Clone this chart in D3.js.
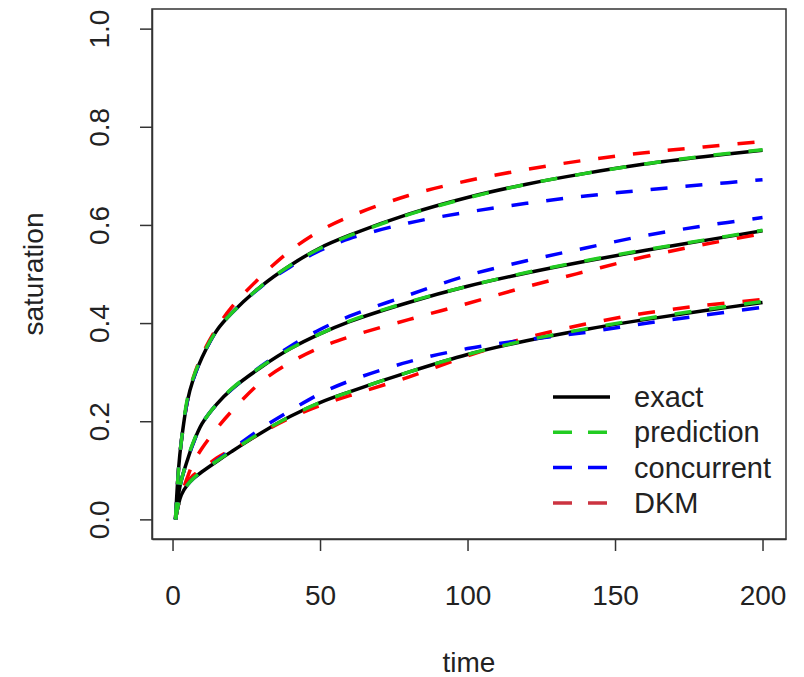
<!DOCTYPE html>
<html>
<head>
<meta charset="utf-8">
<script src="https://cdn.jsdelivr.net/npm/d3@7"></script>
<style>
body { margin: 0; background: #fff; }
text { font-family: "Liberation Sans", Arial, sans-serif; fill: #222; }
</style>
</head>
<body>
<div id="chart"></div>
<script>
// ----------------------------------------------------------
// DATA -----------------------------------------------------
// ----------------------------------------------------------
var time = [1, 2, 3, 5, 7, 10, 15, 20, 30, 40, 50, 60, 80, 100, 120, 140, 160, 180, 200];

// upper group
var exact_hi = [0, 0.10, 0.16, 0.24, 0.285, 0.33, 0.385, 0.42, 0.475, 0.518, 0.553, 0.579, 0.622, 0.656, 0.683, 0.705, 0.724, 0.739, 0.752];
var pred_hi  = [0, 0.10, 0.16, 0.245, 0.288, 0.332, 0.385, 0.42, 0.475, 0.518, 0.552, 0.578, 0.621, 0.655, 0.683, 0.705, 0.724, 0.740, 0.753];
var conc_hi  = [0, 0.10, 0.16, 0.24, 0.285, 0.33, 0.385, 0.42, 0.474, 0.515, 0.548, 0.572, 0.604, 0.626, 0.644, 0.659, 0.671, 0.682, 0.692];
var dkm_hi   = [0, 0.10, 0.16, 0.24, 0.288, 0.335, 0.39, 0.432, 0.495, 0.548, 0.588, 0.617, 0.66, 0.69, 0.713, 0.732, 0.747, 0.759, 0.77];

// middle group
var exact_mid = [0, 0.05, 0.08, 0.12, 0.155, 0.195, 0.235, 0.265, 0.31, 0.348, 0.378, 0.403, 0.442, 0.475, 0.502, 0.526, 0.548, 0.568, 0.588];
var pred_mid  = [0, 0.05, 0.08, 0.122, 0.157, 0.195, 0.235, 0.266, 0.311, 0.348, 0.378, 0.404, 0.443, 0.475, 0.503, 0.527, 0.549, 0.569, 0.589];
var conc_mid  = [0, 0.05, 0.08, 0.12, 0.155, 0.195, 0.235, 0.265, 0.312, 0.353, 0.387, 0.414, 0.457, 0.497, 0.527, 0.553, 0.578, 0.598, 0.615];
var dkm_mid   = [0, 0.03, 0.05, 0.085, 0.115, 0.145, 0.185, 0.22, 0.28, 0.32, 0.35, 0.372, 0.407, 0.44, 0.474, 0.505, 0.535, 0.56, 0.582];

// lower group
var exact_lo = [0, 0.03, 0.05, 0.07, 0.083, 0.097, 0.118, 0.138, 0.176, 0.21, 0.238, 0.26, 0.3, 0.336, 0.364, 0.387, 0.407, 0.425, 0.442];
var pred_lo  = [0, 0.03, 0.05, 0.07, 0.083, 0.098, 0.119, 0.139, 0.177, 0.21, 0.238, 0.26, 0.3, 0.336, 0.365, 0.388, 0.409, 0.427, 0.444];
var conc_lo  = [0, 0.03, 0.05, 0.07, 0.083, 0.097, 0.12, 0.142, 0.185, 0.222, 0.256, 0.282, 0.321, 0.348, 0.366, 0.381, 0.399, 0.416, 0.432];
var dkm_lo   = [0, 0.03, 0.05, 0.075, 0.09, 0.102, 0.125, 0.142, 0.176, 0.207, 0.232, 0.252, 0.29, 0.333, 0.37, 0.398, 0.42, 0.436, 0.448];

var x_ticks = [0, 50, 100, 150, 200];
var y_ticks = [0, 0.2, 0.4, 0.6, 0.8, 1.0];

var legend_labels = ["exact", "prediction", "concurrent", "DKM"];

// ----------------------------------------------------------
// SETUP ----------------------------------------------------
// ----------------------------------------------------------
var W = 804, H = 677;
var box = {left: 152, right: 786, top: 9, bottom: 539};
var font_size = 28;

var col = {exact: "#000000", pred: "#22cc22", conc: "#0000ff", dkm: "#ff0000", dkm_legend: "#cc3340"};
var dash = "17,18";

var svg = d3.select("#chart").append("svg")
  .attr("width", W)
  .attr("height", H);

// R style: 4% padding on both ends of the data range
var x = d3.scaleLinear()
  .domain([1 - 0.04 * 199, 200 + 0.04 * 199])
  .range([box.left, box.right]);
var y = d3.scaleLinear()
  .domain([-0.04, 1.04])
  .range([box.bottom, box.top]);

var line = d3.line()
  .x(function(d) { return x(d[0]); })
  .y(function(d) { return y(d[1]); })
  .curve(d3.curveCatmullRom.alpha(0.5));

function pairs(vals) {
  return time.map(function(t, i) { return [t, vals[i]]; });
}

// ----------------------------------------------------------
// CURVES ---------------------------------------------------
// ----------------------------------------------------------
var series = [
  {vals: exact_hi, color: col.exact, dashed: false},
  {vals: exact_mid, color: col.exact, dashed: false},
  {vals: exact_lo, color: col.exact, dashed: false},
  {vals: dkm_hi, color: col.dkm, dashed: true},
  {vals: dkm_mid, color: col.dkm, dashed: true},
  {vals: dkm_lo, color: col.dkm, dashed: true},
  {vals: conc_hi, color: col.conc, dashed: true},
  {vals: conc_mid, color: col.conc, dashed: true},
  {vals: conc_lo, color: col.conc, dashed: true},
  {vals: pred_hi, color: col.pred, dashed: true},
  {vals: pred_mid, color: col.pred, dashed: true},
  {vals: pred_lo, color: col.pred, dashed: true}
];

svg.append("g").selectAll("path")
  .data(series)
  .enter()
  .append("path")
  .attr("d", function(d) { return line(pairs(d.vals)); })
  .attr("fill", "none")
  .attr("stroke", function(d) { return d.color; })
  .attr("stroke-width", 3.5)
  .attr("stroke-dasharray", function(d) { return d.dashed ? dash : null; });

// ----------------------------------------------------------
// AXES & BOX -----------------------------------------------
// ----------------------------------------------------------
svg.append("rect")
  .attr("x", box.left)
  .attr("y", box.top)
  .attr("width", box.right - box.left)
  .attr("height", box.bottom - box.top)
  .attr("fill", "none")
  .attr("stroke", "#333")
  .attr("stroke-width", 1.5);

var x_axis = svg.append("g")
  .attr("transform", "translate(0," + box.bottom + ")")
  .call(d3.axisBottom(x).tickValues(x_ticks).tickSize(12).tickSizeOuter(0));

var y_axis = svg.append("g")
  .attr("transform", "translate(" + box.left + ",0)")
  .call(d3.axisLeft(y).tickValues(y_ticks).tickFormat(d3.format(".1f")).tickSize(12).tickSizeOuter(0));

[x_axis, y_axis].forEach(function(a) {
  a.select(".domain").attr("stroke", "#333").attr("stroke-width", 1.5);
  a.selectAll(".tick line").attr("stroke", "#333").attr("stroke-width", 1.5);
  a.selectAll("text")
    .style("font-family", "Liberation Sans, Arial, sans-serif")
    .style("font-size", font_size + "px")
    .attr("fill", "#222");
});

// baseline of x tick labels
x_axis.selectAll(".tick text")
  .attr("y", 66)
  .attr("dy", null);

// rotated y tick labels
y_axis.selectAll(".tick text")
  .attr("x", null)
  .attr("dy", null)
  .attr("text-anchor", "middle")
  .attr("dominant-baseline", "central")
  .attr("transform", "translate(" + (99 - box.left) + ",0) rotate(-90)");

// axis titles
svg.append("text")
  .attr("x", (box.left + box.right) / 2)
  .attr("y", 672)
  .attr("text-anchor", "middle")
  .style("font-size", font_size + "px")
  .text("time");

svg.append("text")
  .attr("transform", "translate(33," + (box.top + box.bottom) / 2 + ") rotate(-90)")
  .attr("text-anchor", "middle")
  .attr("dominant-baseline", "central")
  .style("font-size", font_size + "px")
  .text("saturation");

// ----------------------------------------------------------
// LEGEND ---------------------------------------------------
// ----------------------------------------------------------
var legend_colors = [col.exact, col.pred, col.conc, col.dkm_legend];
var legend = svg.append("g").attr("class", "legend");
var rows = legend.selectAll("g")
  .data(legend_labels)
  .enter()
  .append("g")
  .attr("transform", function(d, i) { return "translate(0," + (397 + i * 35.3) + ")"; });

rows.append("line")
  .attr("x1", 553)
  .attr("x2", 610)
  .attr("stroke", function(d, i) { return legend_colors[i]; })
  .attr("stroke-width", 3.5)
  .attr("stroke-dasharray", function(d, i) { return i === 0 ? null : "19,16"; });

rows.append("text")
  .attr("x", 634)
  .attr("dominant-baseline", "central")
  .style("font-size", "29px")
  .text(function(d) { return d; });
</script>
</body>
</html>
